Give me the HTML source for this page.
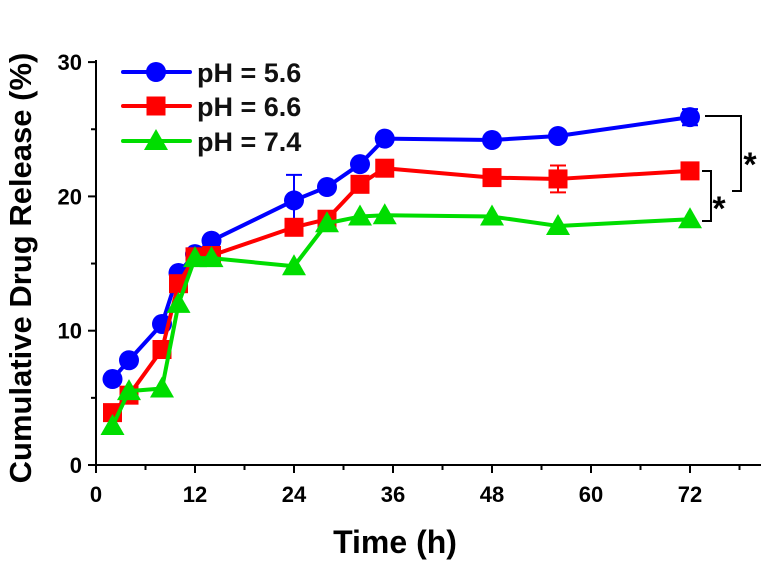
<!DOCTYPE html>
<html><head><meta charset="utf-8"><style>
body{margin:0;background:#fff}
svg{display:block;font-family:"Liberation Sans",Arial,sans-serif;font-weight:bold}
</style></head><body>
<svg id="chart" width="761" height="565" viewBox="0 0 761 565" xmlns="http://www.w3.org/2000/svg"></svg>
<script>
const hours=[2,4,8,10,12,14,24,28,32,35,48,56,72];
const ph56=[6.4,7.8,10.5,14.3,15.7,16.7,19.7,20.7,22.4,24.3,24.2,24.5,25.9];
const ph66=[3.9,5.2,8.6,13.5,15.5,15.6,17.7,18.3,20.9,22.1,21.4,21.3,21.9];
const ph74=[2.9,5.5,5.7,12.0,15.4,15.4,14.8,18.0,18.5,18.6,18.5,17.8,18.3];
const err56=[0,0,0,0,0,0,1.9,0,0,0,0,0,0.6];
const err66=[0,0,0,0,0,0,0,0,0,0,0,1.0,0];
const err74=[0,0,0,0,0,0,0,0,0,0,0,0,0];
const xTicks=[0,12,24,36,48,60,72];
const yTicks=[0,10,20,30];

const NS="http://www.w3.org/2000/svg";
const svg=document.getElementById('chart');
const X=v=>96+v*8.25;
const Y=v=>465-v*13.43;
function mk(t,a,p){const e=document.createElementNS(NS,t);for(const k in a)e.setAttribute(k,a[k]);(p||svg).appendChild(e);return e;}

const ax=mk('g',{});


mk('line',{x1:96,y1:465,x2:761,y2:465,stroke:'#000','stroke-width':2},ax);
mk('line',{x1:96,y1:465,x2:96,y2:60,stroke:'#000','stroke-width':2},ax);
for(let h=0;h<=78;h+=6){mk('line',{x1:X(h),y1:465,x2:X(h),y2:h%12==0?473:470,stroke:'#000','stroke-width':2},ax);}
for(let v=0;v<=30;v+=5){mk('line',{x1:96,y1:Y(v),x2:v%10==0?88:91,y2:Y(v),stroke:'#000','stroke-width':2},ax);}
xTicks.forEach(t=>{const e=mk('text',{x:X(t),y:502,'text-anchor':'middle','font-size':22},ax);e.textContent=t;

});
yTicks.forEach(t=>{const e=mk('text',{x:82,y:Y(t)+8,'text-anchor':'end','font-size':22},ax);e.textContent=t;

});
const xt=mk('text',{x:395,y:553,'text-anchor':'middle','font-size':32});xt.textContent='Time (h)';


const yt=mk('text',{x:0,y:0,'text-anchor':'middle','font-size':31,transform:'translate(31,268) rotate(-90)'});yt.textContent='Cumulative Drug Release (%)';



function marker(type,x,y,c,g){
 if(type==='c')mk('circle',{cx:x,cy:y,r:10,fill:c},g);
 else if(type==='s')mk('rect',{x:x-9.5,y:y-9.5,width:19,height:19,fill:c},g);
 else mk('polygon',{points:`${x},${y-12} ${x-12},${y+9} ${x+12},${y+9}`,fill:c},g);
}
function series(name,vals,errs,c,type){
 const g=mk('g',{});
 
 
 mk('polyline',{points:hours.map((h,i)=>X(h)+','+Y(vals[i])).join(' '),fill:'none',stroke:c,'stroke-width':4,'stroke-linejoin':'round'},g);
 hours.forEach((h,i)=>{if(errs[i]>0){const x=X(h);mk('path',{d:`M${x},${Y(vals[i]-errs[i])}V${Y(vals[i]+errs[i])}M${x-8},${Y(vals[i]+errs[i])}H${x+8}M${x-8},${Y(vals[i]-errs[i])}H${x+8}`,stroke:c,'stroke-width':2,fill:'none'},g);}});
 hours.forEach((h,i)=>marker(type,X(h),Y(vals[i]),c,g));
}
series('series-ph-5-6',ph56,err56,'#0000ff','c');
series('series-ph-6-6',ph66,err66,'#ff0000','s');
series('series-ph-7-4',ph74,err74,'#00dd00','t');

const lg=mk('g',{});


[['pH = 5.6','#0000ff','c',72],['pH = 6.6','#ff0000','s',106],['pH = 7.4','#00dd00','t',141]].forEach(([t,c,ty,y])=>{
 const e=mk('g',{},lg);
 
 
 mk('line',{x1:123,y1:y,x2:190,y2:y,stroke:c,'stroke-width':4,'stroke-linecap':'round'},e);
 marker(ty,156,y,c,e);
 const tx=mk('text',{x:197,y:y+10,'font-size':27,fill:'#111'},e);tx.textContent=t;
});

const sg=mk('g',{});


mk('path',{d:'M705,116H741V191H732',stroke:'#000','stroke-width':2,fill:'none'},sg);
mk('path',{d:'M702,171H711V221H702',stroke:'#000','stroke-width':2,fill:'none'},sg);
const a1=mk('text',{x:750,y:176,'text-anchor':'middle','font-size':34},sg);a1.textContent='*';
const a2=mk('text',{x:719,y:220,'text-anchor':'middle','font-size':34},sg);a2.textContent='*';
</script>
</body></html>
